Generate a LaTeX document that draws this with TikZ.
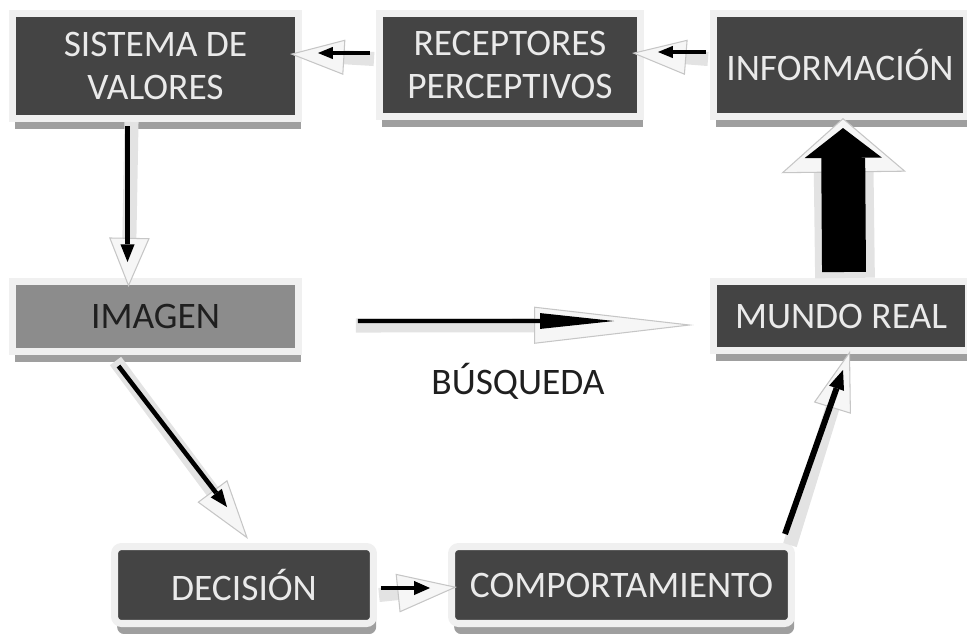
\documentclass[tikz,border=0pt]{standalone}
\usepackage{fontspec}
\setmainfont{Carlito}
\usetikzlibrary{arrows.meta,calc,shadows}
\definecolor{boxdark}{RGB}{68,68,68}
\definecolor{boxlight}{RGB}{140,140,140}
\definecolor{boxtext}{RGB}{234,234,234}
\definecolor{framegray}{RGB}{240,240,240}

\tikzset{
  box/.style={rectangle, fill=boxdark, draw=framegray, line width=4pt, text=boxtext,
    inner sep=0pt, align=center, font=\fontsize{21.3}{24}\selectfont,
    drop shadow={shadow xshift=1.5pt, shadow yshift=-6pt, fill=gray!75, opacity=1}},
  halo/.style 2 args={draw=gray!22, line width=8pt,
    -{Triangle[length=#1, width=#2, color=gray!45, fill=gray!7, line width=0.6pt]}},
  pointer/.style n args={3}{draw=black, line width=#1,
    -{Triangle[length=#2, width=#3, line width=0pt]}},
}

\begin{document}
\begin{tikzpicture}[x=0.02cm, y=-0.02cm]
\useasboundingbox (0,0) rectangle (967,633);

\node (sis) at (155.5,66) [box, minimum width=5.72cm, minimum height=2.1cm] {SISTEMA DE\\VALORES};
\node (rec) at (510,65) [box, minimum width=5.22cm, minimum height=2.06cm] {RECEPTORES\\PERCEPTIVOS};
\node (inf) at (840,65) [box, minimum width=5.06cm, minimum height=2.06cm] {INFORMACIÓN};
\node (img) at (155.5,316.5) [box, fill=boxlight, text=black!88, minimum width=5.72cm, minimum height=1.4cm] {IMAGEN};
\node (mun) at (841,316) [box, minimum width=5.1cm, minimum height=1.38cm] {MUNDO REAL};
\node (dec) at (244,585) [box, rounded corners=4pt, minimum width=5.18cm, minimum height=1.54cm] {DECISIÓN};
\node (com) at (621.5,585) [box, rounded corners=4pt, minimum width=6.8cm, minimum height=1.54cm] {COMPORTAMIENTO};
\node (busq) at (518,381) [font=\fontsize{21.3}{24}\selectfont, text=black!88] {BÚSQUEDA};

% top row
\draw[halo={31pt}{20pt}] ($(rec.west)+(-2,-6)$) -- ($(sis.east)+(-12,-12)$);
\draw[pointer={2.3pt}{8.5pt}{7pt}] ($(rec.west)+(-6,-12)$) -- ($(sis.east)+(16,-13)$);
\draw[halo={31pt}{20pt}] ($(inf.west)+(-2,-6)$) -- ($(rec.east)+(-12,-12)$);
\draw[pointer={2.3pt}{8.5pt}{7pt}] ($(inf.west)+(-4,-13)$) -- ($(rec.east)+(14,-13)$);

% left side
\draw[halo={28pt}{23pt}] ($(sis.south)+(-24,0)$) -- ($(img.north)+(-27,9)$);
\draw[pointer={2.3pt}{10pt}{8pt}] ($(sis.south)+(-28,4)$) -- ($(img.north)+(-28,-16)$);
\draw[halo={34pt}{21pt}] ($(img.south)+(-40,6)$) -- ($(dec.north)+(4,-4)$);
\draw[pointer={2.6pt}{10pt}{8pt}] ($(img.south)+(-37,11)$) -- ($(dec.north)+(-17,-36)$);

% busqueda
\draw[halo={91pt}{21pt}] ($(img.east)+(54,9)$) -- ($(mun.west)+(-16,9)$);
\draw[pointer={2.3pt}{42pt}{9pt}] ($(img.east)+(56,4.5)$) -- ($(mun.west)+(-96,5)$);

% bottom row
\draw[halo={34pt}{22pt}] ($(dec.east)+(2,10)$) -- ($(com.west)+(9,2)$);
\draw[pointer={2.3pt}{9pt}{8pt}] ($(dec.east)+(4,3)$) -- ($(com.west)+(-18,3)$);
\draw[halo={34pt}{22pt}] ($(com.north east)+(-5,2)$) -- ($(mun.south)+(9,-3)$);
\draw[pointer={3.4pt}{11pt}{9pt}] ($(com.north east)+(-10,-9)$) -- ($(mun.south)+(2,16)$);

% big arrow
\draw[halo={31pt}{71pt}, line width=34pt] ($(mun.north)+(4,0)$) -- ($(inf.south)+(3,-2)$);
\draw[pointer={25pt}{17pt}{44pt}] ($(mun.north)+(3,-6)$) -- ($(inf.south)+(3,8)$);

\end{tikzpicture}
\end{document}
